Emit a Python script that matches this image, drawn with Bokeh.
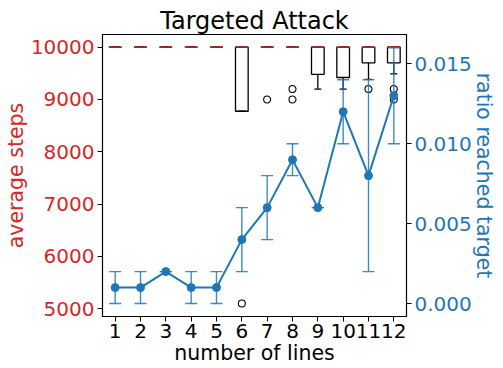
from bokeh.plotting import figure
from bokeh.models import (Range1d, LinearAxis, FixedTicker, Whisker, ColumnDataSource,
                          TeeHead, NumeralTickFormatter)
from bokeh.embed import file_html
from bokeh.resources import INLINE

# ---- data ----
lines_n = [1, 2, 3, 4, 5, 6, 7, 8, 9, 10, 11, 12]
tick_labels = ["1", "2", "3", "4", "5", "6", "7", "8", "9", "10", "11", "12"]

# ratio reached target (right axis): mean and error
ratio_mean = [0.001, 0.001, 0.002, 0.001, 0.001, 0.004, 0.006, 0.009, 0.006, 0.012, 0.008, 0.013]
ratio_err = [0.001, 0.001, 0.0, 0.001, 0.001, 0.002, 0.002, 0.001, 0.0, 0.002, 0.006, 0.003]

# average steps box statistics (left axis)
box_q1 = [10000, 10000, 10000, 10000, 10000, 8775, 10000, 10000, 9480, 9420, 9700, 9700]
box_med = [10000, 10000, 10000, 10000, 10000, 10000, 10000, 10000, 10000, 10000, 10000, 10000]
box_q3 = [10000, 10000, 10000, 10000, 10000, 10000, 10000, 10000, 10000, 10000, 10000, 10000]
whisk_lo = [10000, 10000, 10000, 10000, 10000, 8775, 10000, 10000, 9200, 9200, 9385, 9490]
whisk_hi = [10000, 10000, 10000, 10000, 10000, 10000, 10000, 10000, 10000, 10000, 10000, 10000]
outlier_x = [6, 7, 8, 8, 11, 12, 12]
outlier_y = [5100, 9000, 9200, 9000, 9200, 9200, 9000]

RED = "#d62728"
BLUE = "#1f77b4"
FONT = "DejaVu Sans"
TICK_FS = "20px"
LABEL_FS = "20.5px"

p = figure(frame_width=304, frame_height=282,
           x_range=Range1d(0.5, 12.5), y_range=Range1d(4853, 10242),
           output_backend="svg", toolbar_location=None,
           title="Targeted Attack",
           min_border_left=98, min_border_right=0, min_border_top=34, min_border_bottom=0)

p.title.text_font = FONT
p.title.text_font_size = "24px"
p.title.text_font_style = "normal"
p.title.align = "center"
p.title.text_color = "black"
p.title.standoff = 0
p.title.offset = 0

p.outline_line_color = "black"
p.outline_line_alpha = 1
p.outline_line_width = 1.2
p.xgrid.visible = False
p.ygrid.visible = False
p.background_fill_color = "white"
p.border_fill_color = "white"

# x axis
xa = p.xaxis[0]
xa.ticker = FixedTicker(ticks=lines_n)
xa.major_label_overrides = {n: t for n, t in zip(lines_n, tick_labels)}
xa.axis_label = "number of lines"

# left axis
ya = p.yaxis[0]
ya.ticker = FixedTicker(ticks=[5000, 6000, 7000, 8000, 9000, 10000])
ya.axis_label = "average steps"

# right axis
p.extra_y_ranges = {"ratio": Range1d(-0.00081, 0.01683)}
ra = LinearAxis(y_range_name="ratio", axis_label="ratio reached target",
                ticker=FixedTicker(ticks=[0.0, 0.005, 0.010, 0.015]),
                formatter=NumeralTickFormatter(format="0.000"))
p.add_layout(ra, "right")

for ax, col in ((xa, "black"), (ya, RED), (ra, BLUE)):
    ax.major_label_text_font = FONT
    ax.major_label_text_font_size = TICK_FS
    ax.major_label_text_color = col
    ax.axis_label_text_font = FONT
    ax.axis_label_text_font_size = LABEL_FS
    ax.axis_label_text_font_style = "normal"
    ax.axis_label_text_color = col
    ax.axis_line_color = "black"
    ax.major_tick_line_color = "black"
    ax.major_tick_out = 5
    ax.major_tick_in = 0
    ax.minor_tick_line_color = None
    ax.major_label_standoff = 3
    ax.axis_label_standoff = 0
ra.axis_label_standoff = -3
xa.major_label_standoff = 2

# ---- box plots ----
bx = ColumnDataSource(dict(
    x=lines_n, q1=box_q1, med=box_med, q3=box_q3, lo=whisk_lo, hi=whisk_hi,
    l=[n - 0.25 for n in lines_n], r=[n + 0.25 for n in lines_n],
    cl=[n - 0.14 for n in lines_n], cr=[n + 0.14 for n in lines_n]))
p.segment(x0="x", y0="q1", x1="x", y1="lo", source=bx, line_color="black", line_width=1.3)
p.segment(x0="x", y0="q3", x1="x", y1="hi", source=bx, line_color="black", line_width=1.3)
p.segment(x0="cl", y0="lo", x1="cr", y1="lo", source=bx, line_color="black", line_width=1.3)
p.segment(x0="cl", y0="hi", x1="cr", y1="hi", source=bx, line_color="black", line_width=1.3)
p.quad(left="l", right="r", bottom="q1", top="q3", source=bx,
       fill_alpha=0, line_color="black", line_width=1.3)
p.segment(x0="l", y0="med", x1="r", y1="med", source=bx, line_color="#b02222", line_width=1.6)
p.scatter(outlier_x, outlier_y, marker="circle", size=7, fill_color=None,
          line_color="black", line_width=1.1)

# ---- ratio line with error bars ----
rs = ColumnDataSource(dict(
    x=lines_n, y=ratio_mean,
    upper=[m + e for m, e in zip(ratio_mean, ratio_err)],
    lower=[m - e for m, e in zip(ratio_mean, ratio_err)]))
wh = Whisker(base="x", upper="upper", lower="lower", source=rs, y_range_name="ratio",
             line_color=BLUE, line_alpha=0.85, line_width=1.4,
             upper_head=TeeHead(size=12, line_color=BLUE, line_alpha=0.85, line_width=1.4),
             lower_head=TeeHead(size=12, line_color=BLUE, line_alpha=0.85, line_width=1.4))
wh.level = "glyph"
p.add_layout(wh)
p.line("x", "y", source=rs, y_range_name="ratio", line_color=BLUE, line_width=2)
p.scatter("x", "y", source=rs, y_range_name="ratio", marker="circle", size=8,
          fill_color=BLUE, line_color=BLUE)

open("out.html", "w").write(file_html(p, INLINE))
